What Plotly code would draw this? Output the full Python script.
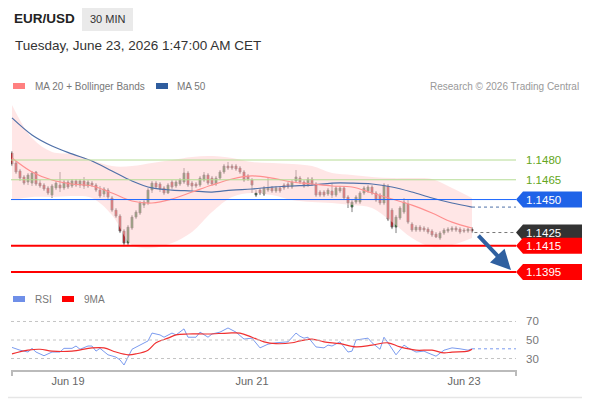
import plotly.graph_objects as go

# --- price data (30 min bars, EUR/USD) ---
OPEN = [1.14853, 1.14777, 1.14717, 1.14671, 1.14633, 1.14625, 1.14709, 1.14625, 1.14610, 1.14588,
        1.14534, 1.14588, 1.14610, 1.14588, 1.14633, 1.14603, 1.14641, 1.14610, 1.14641, 1.14603,
        1.14625, 1.14610, 1.14572, 1.14542, 1.14572, 1.14512, 1.14420, 1.14375, 1.14261, 1.14170,
        1.14284, 1.14367, 1.14398, 1.14458, 1.14474, 1.14572, 1.14625, 1.14618, 1.14588, 1.14550,
        1.14633, 1.14603, 1.14618, 1.14633, 1.14701, 1.14625, 1.14618, 1.14610, 1.14648, 1.14686,
        1.14663, 1.14618, 1.14663, 1.14709, 1.14754, 1.14754, 1.14754, 1.14739, 1.14709, 1.14679,
        1.14648, 1.14534, 1.14572, 1.14542, 1.14572, 1.14588, 1.14565, 1.14588, 1.14610, 1.14618,
        1.14595, 1.14641, 1.14663, 1.14633, 1.14610, 1.14656, 1.14618, 1.14557, 1.14557, 1.14542,
        1.14565, 1.14534, 1.14565, 1.14588, 1.14519, 1.14443, 1.14481, 1.14481, 1.14550, 1.14565,
        1.14595, 1.14550, 1.14534, 1.14474, 1.14603, 1.14420, 1.14291, 1.14360, 1.14405, 1.14466,
        1.14314, 1.14269, 1.14291, 1.14284, 1.14276, 1.14261, 1.14238, 1.14208, 1.14246, 1.14261,
        1.14269, 1.14284, 1.14276, 1.14269, 1.14261, 1.14276]
CLOSE = [1.14770, 1.14709, 1.14663, 1.14625, 1.14686, 1.14701, 1.14618, 1.14603, 1.14580, 1.14550,
         1.14603, 1.14625, 1.14588, 1.14633, 1.14595, 1.14641, 1.14610, 1.14641, 1.14603, 1.14633,
         1.14610, 1.14572, 1.14527, 1.14580, 1.14519, 1.14420, 1.14375, 1.14261, 1.14170, 1.14291,
         1.14367, 1.14405, 1.14474, 1.14481, 1.14572, 1.14625, 1.14595, 1.14580, 1.14550, 1.14610,
         1.14595, 1.14633, 1.14648, 1.14701, 1.14610, 1.14603, 1.14603, 1.14663, 1.14686, 1.14625,
         1.14618, 1.14663, 1.14709, 1.14754, 1.14739, 1.14739, 1.14732, 1.14709, 1.14648, 1.14656,
         1.14610, 1.14550, 1.14550, 1.14588, 1.14588, 1.14565, 1.14588, 1.14565, 1.14588, 1.14595,
         1.14633, 1.14671, 1.14633, 1.14603, 1.14656, 1.14618, 1.14534, 1.14534, 1.14534, 1.14572,
         1.14534, 1.14588, 1.14588, 1.14512, 1.14474, 1.14481, 1.14519, 1.14550, 1.14588, 1.14595,
         1.14550, 1.14496, 1.14474, 1.14610, 1.14352, 1.14291, 1.14367, 1.14436, 1.14481, 1.14329,
         1.14269, 1.14291, 1.14269, 1.14269, 1.14254, 1.14231, 1.14216, 1.14246, 1.14269, 1.14276,
         1.14284, 1.14269, 1.14254, 1.14261, 1.14276, 1.14261]
HIGH = [1.14868, 1.14792, 1.14732, 1.14686, 1.14701, 1.14717, 1.14717, 1.14648, 1.14625, 1.14603,
        1.14618, 1.14641, 1.14709, 1.14648, 1.14648, 1.14656, 1.14656, 1.14656, 1.14671, 1.14648,
        1.14641, 1.14625, 1.14603, 1.14595, 1.14588, 1.14527, 1.14436, 1.14390, 1.14276, 1.14307,
        1.14383, 1.14420, 1.14489, 1.14496, 1.14588, 1.14641, 1.14641, 1.14633, 1.14603, 1.14625,
        1.14648, 1.14648, 1.14663, 1.14739, 1.14717, 1.14641, 1.14633, 1.14679, 1.14709, 1.14701,
        1.14679, 1.14679, 1.14724, 1.14770, 1.14785, 1.14770, 1.14770, 1.14754, 1.14724, 1.14694,
        1.14663, 1.14572, 1.14588, 1.14603, 1.14663, 1.14603, 1.14603, 1.14603, 1.14625, 1.14633,
        1.14648, 1.14724, 1.14679, 1.14648, 1.14671, 1.14671, 1.14633, 1.14572, 1.14572, 1.14588,
        1.14625, 1.14603, 1.14603, 1.14603, 1.14534, 1.14496, 1.14534, 1.14565, 1.14603, 1.14610,
        1.14610, 1.14565, 1.14550, 1.14625, 1.14618, 1.14436, 1.14383, 1.14451, 1.14512, 1.14496,
        1.14329, 1.14307, 1.14307, 1.14299, 1.14291, 1.14276, 1.14254, 1.14261, 1.14284, 1.14291,
        1.14299, 1.14299, 1.14291, 1.14284, 1.14291, 1.14291]
LOW = [1.14754, 1.14694, 1.14641, 1.14610, 1.14610, 1.14603, 1.14603, 1.14588, 1.14565, 1.14534,
       1.14512, 1.14572, 1.14557, 1.14572, 1.14580, 1.14588, 1.14595, 1.14588, 1.14580, 1.14588,
       1.14595, 1.14557, 1.14512, 1.14519, 1.14496, 1.14405, 1.14360, 1.14246, 1.14147, 1.14155,
       1.14269, 1.14352, 1.14383, 1.14436, 1.14458, 1.14550, 1.14580, 1.14557, 1.14534, 1.14542,
       1.14580, 1.14588, 1.14603, 1.14618, 1.14595, 1.14557, 1.14588, 1.14595, 1.14633, 1.14610,
       1.14603, 1.14603, 1.14648, 1.14694, 1.14724, 1.14724, 1.14717, 1.14694, 1.14633, 1.14641,
       1.14550, 1.14519, 1.14534, 1.14527, 1.14557, 1.14550, 1.14550, 1.14550, 1.14572, 1.14580,
       1.14580, 1.14625, 1.14618, 1.14588, 1.14595, 1.14603, 1.14519, 1.14519, 1.14519, 1.14527,
       1.14512, 1.14519, 1.14550, 1.14496, 1.14436, 1.14405, 1.14466, 1.14466, 1.14534, 1.14550,
       1.14534, 1.14481, 1.14458, 1.14458, 1.14337, 1.14276, 1.14246, 1.14345, 1.14390, 1.14314,
       1.14254, 1.14254, 1.14254, 1.14254, 1.14238, 1.14216, 1.14208, 1.14193, 1.14231, 1.14246,
       1.14254, 1.14254, 1.14238, 1.14246, 1.14246, 1.14246]

# moving averages / bands, sampled every 5 bars
LINE_IDX = [0, 5, 10, 15, 20, 25, 30, 35, 40, 45, 50, 55, 60, 65, 70, 75, 80, 85, 90, 95, 100, 105, 110, 115]
MA20 = [1.14815, 1.14709, 1.14648, 1.14618, 1.14603, 1.14550, 1.14489, 1.14474, 1.14504, 1.14557,
        1.14610, 1.14656, 1.14679, 1.14663, 1.14633, 1.14618, 1.14603, 1.14595, 1.14550, 1.14504,
        1.14458, 1.14398, 1.14329, 1.14284]
MA50 = [1.15119, 1.14990, 1.14906, 1.14846, 1.14792, 1.14717, 1.14641, 1.14588, 1.14572, 1.14565,
        1.14557, 1.14572, 1.14580, 1.14595, 1.14603, 1.14610, 1.14625, 1.14625, 1.14618, 1.14595,
        1.14557, 1.14512, 1.14474, 1.14443]
BB_UP = [1.15218, 1.14967, 1.14861, 1.14846, 1.14800, 1.14754, 1.14754, 1.14777, 1.14800, 1.14823,
         1.14830, 1.14815, 1.14785, 1.14777, 1.14770, 1.14754, 1.14701, 1.14686, 1.14671, 1.14663,
         1.14663, 1.14656, 1.14588, 1.14512]
BB_LOW = [1.14496, 1.14519, 1.14519, 1.14527, 1.14512, 1.14383, 1.14155, 1.14132, 1.14170, 1.14254,
          1.14405, 1.14519, 1.14550, 1.14534, 1.14496, 1.14481, 1.14474, 1.14458, 1.14436, 1.14329,
          1.14208, 1.14140, 1.14155, 1.14208]

# RSI and its 9 period average
RSI_IDX = [0, 2, 4, 5, 6, 8, 10, 12, 13, 15, 16, 17, 19, 20, 21, 22, 24, 26, 27, 28, 29, 30, 32, 34,
           35, 37, 38, 40, 41, 43, 44, 46, 47, 49, 50, 52, 54, 55, 56, 58, 60, 62, 64, 66, 69, 71,
           72, 73, 74, 76, 78, 79, 80, 82, 84, 85, 86, 89, 90, 92, 93, 94, 96, 98, 99, 101, 103,
           104, 106, 108, 110, 112, 114, 115]
RSI = [42, 39, 37, 41, 37, 33, 37, 37, 41, 41, 43.5, 40, 43.5, 43.5, 38, 41, 34, 31.5, 28.5, 23,
       31.5, 40, 44.5, 49, 57.5, 55.5, 53, 57.5, 55.5, 62, 53, 53, 58.5, 53, 56.5, 58.5, 63, 61,
       58.5, 51, 52, 41.5, 45.5, 47, 48, 57.5, 54, 52, 53, 42.5, 41.5, 44.5, 43.5, 48, 37, 38, 50,
       52, 47, 40, 53, 47, 34, 44.5, 41.5, 37, 38, 36, 32.5, 39, 41.5, 40.5, 39, 40.5]
MA9_IDX = [0, 4, 7, 10, 15, 20, 23, 26, 29, 31, 34, 36, 39, 41, 44, 49, 54, 57, 60, 63, 66, 70, 72,
           75, 78, 82, 86, 90, 94, 97, 101, 105, 108, 110, 114, 115]
MA9 = [35, 39, 40, 38, 38, 41.5, 41.5, 37, 34, 35, 39, 47, 52, 55.5, 56.5, 56.5, 57.5, 57.5, 53,
       48, 46, 47, 49, 51, 48, 46, 42.5, 44.5, 47, 42.5, 39, 39, 36, 37, 38, 40]

# key levels
RESIST = [1.1480, 1.1465]
PIVOT = 1.1450
LAST = 1.1425
SUPPORT = [1.1415, 1.1395]

TICK_IDX = [14, 60, 113]
TICK_TXT = ['Jun 19', 'Jun 21', 'Jun 23']

# the page body keeps an 8px margin, so the figure is 8px smaller and shifted
OFF = 8
W, H = 590 - OFF, 400 - OFF
X0, X1 = 11, 516          # plot area in screen pixels
XR = [-0.25, 126]
FONT = 'Liberation Sans, Arial, sans-serif'


def px(x):
    return (x - OFF) / W


def py(y):
    return 1 - (y - OFF) / H


idx = list(range(len(OPEN)))
fig = go.Figure()

# bollinger band
fig.add_trace(go.Scatter(x=LINE_IDX, y=BB_UP, mode='lines', line=dict(width=0, shape='spline'),
                         showlegend=False, hoverinfo='skip'))
fig.add_trace(go.Scatter(x=LINE_IDX, y=BB_LOW, mode='lines', line=dict(width=0, shape='spline'),
                         fill='tonexty', fillcolor='rgba(255,205,205,0.5)',
                         showlegend=False, hoverinfo='skip'))
fig.add_trace(go.Scatter(x=LINE_IDX, y=MA50, mode='lines',
                         line=dict(color='#4f70a8', width=1.2, shape='spline'), showlegend=False))
fig.add_trace(go.Scatter(x=[LINE_IDX[-1], XR[1]], y=[MA50[-1], MA50[-1]], mode='lines',
                         line=dict(color='#4f70a8', width=1, dash='dot'), showlegend=False))
fig.add_trace(go.Scatter(x=LINE_IDX, y=MA20, mode='lines',
                         line=dict(color='#ff8f8f', width=1.2, shape='spline'), showlegend=False))

fig.add_trace(go.Candlestick(
    x=idx, open=OPEN, high=HIGH, low=LOW, close=CLOSE,
    increasing=dict(line=dict(color='#5a5a5a', width=0.8), fillcolor='#23802a'),
    decreasing=dict(line=dict(color='#5a5a5a', width=0.8), fillcolor='#e5141c'),
    showlegend=False,
))

# RSI panel
fig.add_trace(go.Scatter(x=RSI_IDX, y=RSI, mode='lines', xaxis='x2', yaxis='y2',
                         line=dict(color='#7b9bef', width=1), showlegend=False))
fig.add_trace(go.Scatter(x=[RSI_IDX[-1], XR[1]], y=[RSI[-1], RSI[-1]], mode='lines', xaxis='x2', yaxis='y2',
                         line=dict(color='#7b9bef', width=1, dash='dot'), showlegend=False))
fig.add_trace(go.Scatter(x=MA9_IDX, y=MA9, mode='lines', xaxis='x2', yaxis='y2',
                         line=dict(color='#f03030', width=1.2, shape='spline'), showlegend=False))

shapes = []
annots = []

# level lines
for lv in RESIST:
    shapes.append(dict(type='line', xref='paper', yref='y', x0=px(X0), x1=px(X1), y0=lv, y1=lv,
                       line=dict(color='#b5dc94', width=1)))
shapes.append(dict(type='line', xref='paper', yref='y', x0=px(X0), x1=px(X1), y0=PIVOT, y1=PIVOT,
                   line=dict(color='#1a66ff', width=1)))
for lv in SUPPORT:
    shapes.append(dict(type='line', xref='paper', yref='y', x0=px(X0), x1=px(X1), y0=lv, y1=lv,
                       line=dict(color='#ff0000', width=2)))
shapes.append(dict(type='line', xref='x', yref='y', x0=idx[-1] + 0.6, x1=XR[1], y0=LAST, y1=LAST,
                   line=dict(color='#777777', width=1, dash='dot')))

# right side price tags
half = 8 / 13180
tags = [(RESIST[0], None, '#64a620'), (RESIST[1], None, '#64a620'), (PIVOT, '#1f63e8', 'white'),
        (LAST, '#333333', 'white'), (SUPPORT[0], '#ff0000', 'white'), (SUPPORT[1], '#ff0000', 'white')]
for lv, bg, fg in tags:
    if bg:
        a, b, c = px(516), px(523), px(586)
        shapes.append(dict(type='path', xref='paper', yref='y', fillcolor=bg, line=dict(width=0),
                           path=f'M {a},{lv} L {b},{lv + half} L {c},{lv + half} L {c},{lv - half} '
                                f'L {b},{lv - half} Z'))
    annots.append(dict(xref='paper', yref='y', x=px(524), y=lv, text=f'{lv:.4f}', showarrow=False,
                       xanchor='left', yanchor='middle', font=dict(size=11.5, color=fg, family=FONT)))

# forecast arrow
annots.append(dict(xref='paper', yref='y', x=px(511), y=1.13965, ax=-34, ay=-36, text='',
                   showarrow=True, arrowhead=2, arrowsize=1, arrowwidth=4, arrowcolor='#2f60a0'))

# RSI grid
for v in [30, 50, 70]:
    shapes.append(dict(type='line', xref='paper', yref='y2', x0=px(X0), x1=px(X1), y0=v, y1=v,
                       line=dict(color='#c4c4c4', width=1, dash='dot')))
    annots.append(dict(xref='paper', yref='y2', x=px(524), y=v, text=str(v), showarrow=False,
                       xanchor='left', yanchor='middle', font=dict(size=11.5, color='#777', family=FONT)))
for xe in [X0 + 1, X1]:
    shapes.append(dict(type='line', xref='paper', yref='paper', x0=px(xe), x1=px(xe),
                       y0=py(370), y1=py(376), line=dict(color='#bbbbbb', width=2)))

# card edges (right and bottom)
shapes.append(dict(type='line', xref='paper', yref='paper', x0=px(588.5), x1=px(588.5), y0=0, y1=1,
                   line=dict(color='#e6e6e6', width=1.5)))
shapes.append(dict(type='line', xref='paper', yref='paper', x0=0, x1=1, y0=py(397.5), y1=py(397.5),
                   line=dict(color='#e6e6e6', width=1.5)))

# header
shapes.append(dict(type='rect', xref='paper', yref='paper', x0=px(82), x1=px(133), y0=py(31), y1=py(7),
                   fillcolor='#eaeaea', line=dict(width=0)))
annots += [
    dict(x=px(12), y=py(19), text='<b>EUR/USD</b>', font=dict(size=13.5, color='#222', family=FONT)),
    dict(x=px(88), y=py(19), text='30 MIN', font=dict(size=11, color='#333', family=FONT)),
    dict(x=px(13), y=py(46), text='Tuesday, June 23, 2026 1:47:00 AM CET',
         font=dict(size=13.5, color='#333', family=FONT)),
    dict(x=px(33), y=py(86), text='MA 20 + Bollinger Bands', font=dict(size=10, color='#777', family=FONT)),
    dict(x=px(175), y=py(86), text='MA 50', font=dict(size=10, color='#777', family=FONT)),
    dict(x=px(33), y=py(299), text='RSI', font=dict(size=10, color='#777', family=FONT)),
    dict(x=px(82), y=py(299), text='9MA', font=dict(size=10, color='#777', family=FONT)),
]
for a in annots[-7:]:
    a.update(xref='paper', yref='paper', showarrow=False, xanchor='left', yanchor='middle')
annots.append(dict(xref='paper', yref='paper', x=px(581), y=py(86), text='Research © 2026 Trading Central',
                   showarrow=False, xanchor='right', yanchor='middle',
                   font=dict(size=10, color='#999', family=FONT)))

# legend swatches
for (xa, ya, col) in [(13, 86, '#ff8080'), (156, 86, '#2f5d9e'), (13, 299, '#6f8fe8'), (62, 299, '#ff0000')]:
    shapes.append(dict(type='rect', xref='paper', yref='paper', x0=px(xa), x1=px(xa + 12),
                       y0=py(ya + 3), y1=py(ya - 3), fillcolor=col, line=dict(width=0)))

fig.update_layout(
    width=W, height=H,
    margin=dict(l=0, r=0, t=0, b=0),
    paper_bgcolor='white', plot_bgcolor='rgba(0,0,0,0)',
    font=dict(family=FONT),
    showlegend=False,
    shapes=shapes, annotations=annots,
    xaxis=dict(domain=[px(X0), px(X1)], range=XR, visible=False, rangeslider=dict(visible=False),
               anchor='y'),
    yaxis=dict(domain=[py(280), py(100)], range=[1.13890, 1.15255], visible=False, anchor='x'),
    xaxis2=dict(domain=[px(X0), px(X1)], range=XR, anchor='y2', showgrid=False, zeroline=False,
                showline=True, linecolor='#bbbbbb', linewidth=2, ticks='',
                tickvals=TICK_IDX, ticktext=TICK_TXT, tickfont=dict(size=11, color='#666')),
    yaxis2=dict(domain=[py(370), py(305)], range=[17.6, 87.8], visible=False, anchor='x2'),
)

fig.write_html('out.html')
